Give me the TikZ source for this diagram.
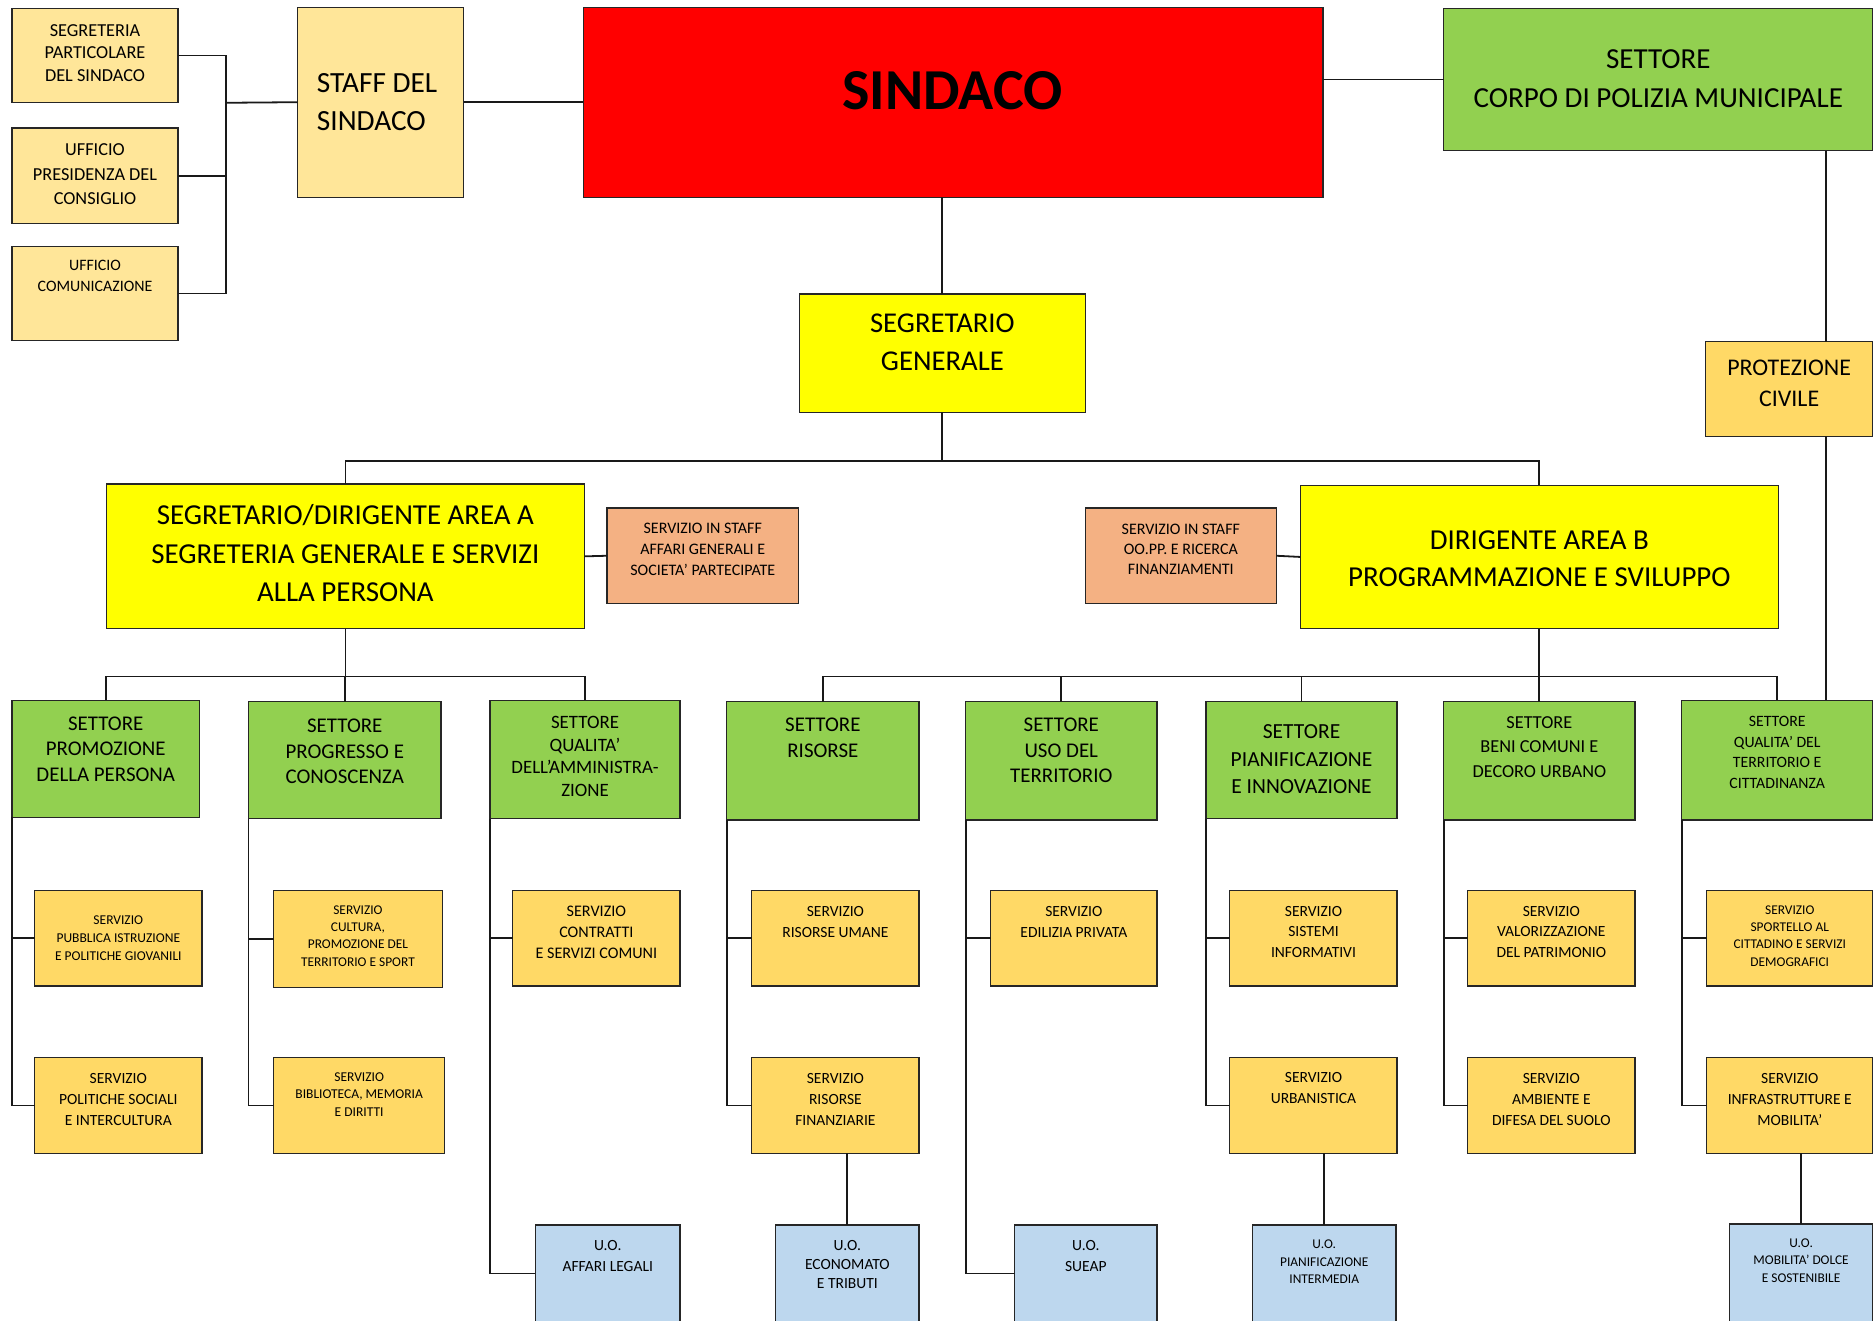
\documentclass[tikz,border=0pt]{standalone}
\usepackage{fontspec}
\setmainfont{Carlito}
\definecolor{cred}{HTML}{FF0000}
\definecolor{cyel}{HTML}{FFFF00}
\definecolor{cgreen}{HTML}{92D050}
\definecolor{clight}{HTML}{FFE699}
\definecolor{cgold}{HTML}{FFD966}
\definecolor{csalmon}{HTML}{F4B183}
\definecolor{cblue}{HTML}{BDD7EE}
\tikzset{
  box/.style={draw=black!85, line width=1.1pt, rectangle, inner sep=0pt, outer sep=0pt},
  conn/.style={draw=black!90, line width=1.5pt},
}
\newcommand\ob[9]{\def\obname{#1}\def\obfs{#8}\def\obskip{#9}\def\oby{#7}\def\obx{(#3+#5)/2}%
  \node[box,#2,minimum width={#5-#3},minimum height={#6-#4}] (#1) at ({(#3+#5)/2},{(#4+#6)/2}) {};%
  \obtxt}
\newcommand\obtxt[1]{\node[anchor=north,align=center,inner sep=0pt,font=\fontsize{\obfs}{\obskip}\selectfont] (\obname-t) at ({\obx},{\oby-0.32*\obfs}) {#1};}
\begin{document}
\begin{tikzpicture}[x=1pt,y=-1pt]
\useasboundingbox[fill=white] (0,0) rectangle (1568,1105);
% top left
\ob{segpart}{fill=clight}{10}{7}{149}{86}{25}{15.3}{19}{SEGRETERIA\\PARTICOLARE\\DEL SINDACO}
\ob{upres}{fill=clight}{10}{107}{149}{187}{125}{15.3}{20.5}{UFFICIO\\PRESIDENZA DEL\\CONSIGLIO}
\ob{ucom}{fill=clight}{10}{206}{149}{285}{222}{13.3}{17}{UFFICIO\\COMUNICAZIONE}
\node[box,fill=clight,minimum width=139,minimum height=159] (staff) at (318.5,85.5) {};
\node[anchor=north west,align=left,inner sep=0pt,font=\fontsize{24.5}{32}\selectfont] (staff-t) at (265,69-7.8) {STAFF DEL\\SINDACO};
\node[box,fill=cred,minimum width=619,minimum height=159] (sindaco) at (797.5,85.5) {};
\node[inner sep=0pt,font=\fontsize{48.5}{56}\selectfont\bfseries] (sindaco-t) at (797,76) {SINDACO};
\ob{corpo}{fill=cgreen}{1208}{7}{1567}{126}{49}{24.3}{33}{SETTORE\\CORPO DI POLIZIA MUNICIPALE}
\ob{prot}{fill=cgold}{1427}{286}{1567}{365}{307}{20}{26}{PROTEZIONE\\CIVILE}
\ob{seggen}{fill=cyel}{669}{246}{908}{345}{270}{24}{32}{SEGRETARIO\\GENERALE}
\ob{areaA}{fill=cyel}{89}{405}{489}{526}{430}{24.2}{32}{SEGRETARIO/DIRIGENTE AREA A\\SEGRETERIA GENERALE E SERVIZI\\ALLA PERSONA}
\ob{staffA}{fill=csalmon}{508}{425}{668}{505}{442}{13.4}{17.5}{SERVIZIO IN STAFF\\AFFARI GENERALI E\\SOCIETA’ PARTECIPATE}
\ob{staffB}{fill=csalmon}{908}{425}{1068}{505}{443}{13.4}{16.5}{SERVIZIO IN STAFF\\OO.PP. E RICERCA\\FINANZIAMENTI}
\ob{areaB}{fill=cyel}{1088}{406}{1488}{526}{452}{24.2}{30.5}{DIRIGENTE AREA B\\PROGRAMMAZIONE E SVILUPPO}
% settori
\ob{s1}{fill=cgreen}{10}{586}{167}{684}{605}{17.5}{21.5}{SETTORE\\PROMOZIONE\\DELLA PERSONA}
\ob{s2}{fill=cgreen}{208}{587}{369}{685}{607}{17.5}{21.5}{SETTORE\\PROGRESSO E\\CONOSCENZA}
\ob{s3}{fill=cgreen}{410}{586}{569}{685}{604}{15.8}{19}{SETTORE\\QUALITA’\\DELL’AMMINISTRA-\\ZIONE}
\ob{s4}{fill=cgreen}{608}{587}{769}{686}{606}{17.5}{22}{SETTORE\\RISORSE}
\ob{s5}{fill=cgreen}{808}{587}{968}{686}{606}{17.5}{21.5}{SETTORE\\USO DEL\\TERRITORIO}
\ob{s6}{fill=cgreen}{1009}{587}{1169}{685}{612}{18}{23}{SETTORE\\PIANIFICAZIONE\\E INNOVAZIONE}
\ob{s7}{fill=cgreen}{1208}{587}{1368}{686}{604}{15.3}{20.5}{SETTORE\\BENI COMUNI E\\DECORO URBANO}
\ob{s8}{fill=cgreen}{1407}{586}{1567}{686}{603}{13.2}{17.5}{SETTORE\\QUALITA’ DEL\\TERRITORIO E\\CITTADINANZA}
% servizi row 1
\ob{p1}{fill=cgold}{29}{745}{169}{825}{770}{11.3}{15}{SERVIZIO\\PUBBLICA ISTRUZIONE\\E POLITICHE GIOVANILI}
\ob{c1}{fill=cgold}{229}{745}{370}{826}{761}{11.2}{14.5}{SERVIZIO\\CULTURA,\\PROMOZIONE DEL\\TERRITORIO E SPORT}
\ob{q1}{fill=cgold}{429}{745}{569}{825}{762}{13.5}{17.5}{SERVIZIO\\CONTRATTI\\E SERVIZI COMUNI}
\ob{r1}{fill=cgold}{629}{745}{769}{825}{762}{13}{18}{SERVIZIO\\RISORSE UMANE}
\ob{u1}{fill=cgold}{829}{745}{968}{825}{762}{13}{18}{SERVIZIO\\EDILIZIA PRIVATA}
\ob{pi1}{fill=cgold}{1029}{745}{1169}{825}{762}{13}{17.5}{SERVIZIO\\SISTEMI\\INFORMATIVI}
\ob{b1}{fill=cgold}{1228}{745}{1368}{825}{762}{13}{17.5}{SERVIZIO\\VALORIZZAZIONE\\DEL PATRIMONIO}
\ob{t1}{fill=cgold}{1428}{745}{1567}{825}{761}{11.2}{14.5}{SERVIZIO\\SPORTELLO AL\\CITTADINO E SERVIZI\\DEMOGRAFICI}
% servizi row 2
\ob{p2}{fill=cgold}{29}{885}{169}{965}{902}{13}{17.5}{SERVIZIO\\POLITICHE SOCIALI\\E INTERCULTURA}
\ob{c2}{fill=cgold}{229}{885}{372}{965}{901}{11.3}{14.5}{SERVIZIO\\BIBLIOTECA, MEMORIA\\E DIRITTI}
\ob{r2}{fill=cgold}{629}{885}{769}{965}{902}{13}{17.5}{SERVIZIO\\RISORSE\\FINANZIARIE}
\ob{pi2}{fill=cgold}{1029}{885}{1169}{965}{901}{13}{18}{SERVIZIO\\URBANISTICA}
\ob{b2}{fill=cgold}{1228}{885}{1368}{965}{902}{13}{17.5}{SERVIZIO\\AMBIENTE E\\DIFESA DEL SUOLO}
\ob{t2}{fill=cgold}{1428}{885}{1567}{965}{902}{13}{17.5}{SERVIZIO\\INFRASTRUTTURE E\\MOBILITA’}
% U.O.
\ob{q3}{fill=cblue}{448}{1025}{569}{1106}{1042}{13}{17}{U.O.\\AFFARI LEGALI}
\ob{r3}{fill=cblue}{649}{1025}{769}{1106}{1042}{13}{16}{U.O.\\ECONOMATO\\E TRIBUTI}
\ob{u3}{fill=cblue}{849}{1025}{968}{1106}{1042}{13}{17}{U.O.\\SUEAP}
\ob{pi3}{fill=cblue}{1048}{1025}{1168}{1106}{1041}{11.2}{14.5}{U.O.\\PIANIFICAZIONE\\INTERMEDIA}
\ob{t3}{fill=cblue}{1447}{1024}{1567}{1106}{1040}{11.2}{14.5}{U.O.\\MOBILITA’ DOLCE\\E SOSTENIBILE}
% coordinates
\coordinate (brk) at (189,86);
\coordinate (pcx) at (1528,0);
\coordinate (bus1) at (789,386);
\coordinate (bus2) at (0,566);
% connectors top
\draw[conn] (segpart.east) -| (brk);
\draw[conn] (ucom.east) -| (brk);
\draw[conn] (upres.east) -- (upres.east -| brk);
\draw[conn] (brk) -- (staff.west);
\draw[conn] (staff.east) -- (sindaco.west);
\draw[conn] (corpo.west) -- (corpo.west -| sindaco.east);
\draw[conn] (pcx |- corpo.south) -- (pcx |- prot.north);
\draw[conn] (pcx |- prot.south) -- (pcx |- s8.north);
\draw[conn] (seggen.north |- sindaco.south) -- (seggen.north);
\draw[conn] (seggen.south) -- (seggen.south |- bus1);
\draw[conn] (areaA.north) |- (areaB.north |- bus1) -- (areaB.north);
\draw[conn] (areaA.east) -- (staffA.west);
\draw[conn] (staffB.east) -- (areaB.west);
% area A -> settori
\draw[conn] (areaA.south) -- (areaA.south |- bus2);
\draw[conn] (s1.north) |- (s3.north |- bus2) -- (s3.north);
\draw[conn] (s2.north) -- (s2.north |- bus2);
% area B -> settori
\draw[conn] (areaB.south) -- (areaB.south |- bus2);
\draw[conn] (s4.north) |- (s8.north |- bus2) -- (s8.north);
\draw[conn] (s5.north) -- (s5.north |- bus2);
\draw[conn] (s6.north) -- (s6.north |- bus2);
\draw[conn] (s7.north) -- (s7.north |- bus2);
% trunks
\draw[conn] (s1.south west) |- (p2.west);
\draw[conn] (s1.south west |- p1.west) -- (p1.west);
\draw[conn] (s2.south west) |- (c2.west);
\draw[conn] (s2.south west |- c1.west) -- (c1.west);
\draw[conn] (s3.south west) |- (q3.west);
\draw[conn] (s3.south west |- q1.west) -- (q1.west);
\draw[conn] (s4.south west) |- (r2.west);
\draw[conn] (s4.south west |- r1.west) -- (r1.west);
\draw[conn] (s5.south west) |- (u3.west);
\draw[conn] (s5.south west |- u1.west) -- (u1.west);
\draw[conn] (s6.south west) |- (pi2.west);
\draw[conn] (s6.south west |- pi1.west) -- (pi1.west);
\draw[conn] (s7.south west) |- (b2.west);
\draw[conn] (s7.south west |- b1.west) -- (b1.west);
\draw[conn] (s8.south west) |- (t2.west);
\draw[conn] (s8.south west |- t1.west) -- (t1.west);
% to U.O.
\draw[conn] (r3.north |- r2.south) -- (r3.north);
\draw[conn] (pi3.north |- pi2.south) -- (pi3.north);
\draw[conn] (t3.north |- t2.south) -- (t3.north);
\end{tikzpicture}
\end{document}
